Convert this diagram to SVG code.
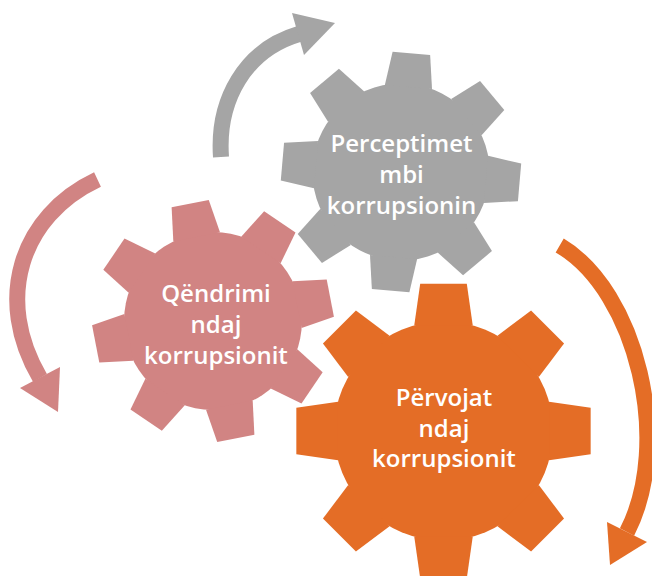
<svg xmlns="http://www.w3.org/2000/svg" width="652" height="576" viewBox="0 0 652 576">
<style>
.lbl{font-family:"Open Sans","Noto Sans","Liberation Sans",sans-serif;font-weight:600;font-size:24px;fill:#FFFFFF;text-anchor:middle}
.shaft{fill:none;stroke-width:16;stroke-linecap:butt}
</style>
<defs>
<polygon id="tooth" points="-19.64,-70.82 -15.64,-98.77 15.64,-98.77 19.64,-70.82"/>
<g id="gear">
<circle cx="0" cy="0" r="73.5"/>
<use href="#tooth"/>
<use href="#tooth" transform="rotate(45)"/>
<use href="#tooth" transform="rotate(90)"/>
<use href="#tooth" transform="rotate(135)"/>
<use href="#tooth" transform="rotate(180)"/>
<use href="#tooth" transform="rotate(225)"/>
<use href="#tooth" transform="rotate(270)"/>
<use href="#tooth" transform="rotate(315)"/>
</g>
</defs>
<rect width="652" height="576" fill="#FFFFFF"/>
<g id="connectors">
<g id="arrow-gray" fill="#A5A5A5">
<path class="shaft" stroke="#A5A5A5" d="M221,157 C217,100 245,50 299,34"/>
<polygon points="335,23 292,13 304,55"/>
</g>
<g id="arrow-pink" fill="#D18483">
<path class="shaft" stroke="#D18483" d="M97.5,179.5 C20,216 -6,300 40,378"/>
<polygon points="58,412 20,388 60,367"/>
</g>
<g id="arrow-orange" fill="#E46D26">
<path class="shaft" stroke="#E46D26" d="M559.7,245.5 C637,291 673,443 627,532"/>
<polygon points="610,565 607,522 647,542"/>
</g>
</g>
<g id="node-perceptimet">
<use href="#gear" fill="#A5A5A5" transform="translate(401,172) rotate(5) scale(1.205)"/>
<text class="lbl"><tspan x="401.5" y="152">Perceptimet</tspan><tspan x="401.5" y="183">mbi</tspan><tspan x="401.5" y="213.5">korrupsionin</tspan></text>
</g>
<g id="node-qendrimi">
<use href="#gear" fill="#D18483" transform="translate(213,321) rotate(-11) scale(1.21)"/>
<text class="lbl"><tspan x="216" y="302">Qëndrimi</tspan><tspan x="216" y="333">ndaj</tspan><tspan x="216" y="364">korrupsionit</tspan></text>
</g>
<g id="node-pervojat">
<use href="#gear" fill="#E46D26" transform="translate(443.5,431) scale(1.49)"/>
<text class="lbl"><tspan x="444" y="406">Përvojat</tspan><tspan x="444" y="437">ndaj</tspan><tspan x="444" y="467">korrupsionit</tspan></text>
</g>
</svg>
